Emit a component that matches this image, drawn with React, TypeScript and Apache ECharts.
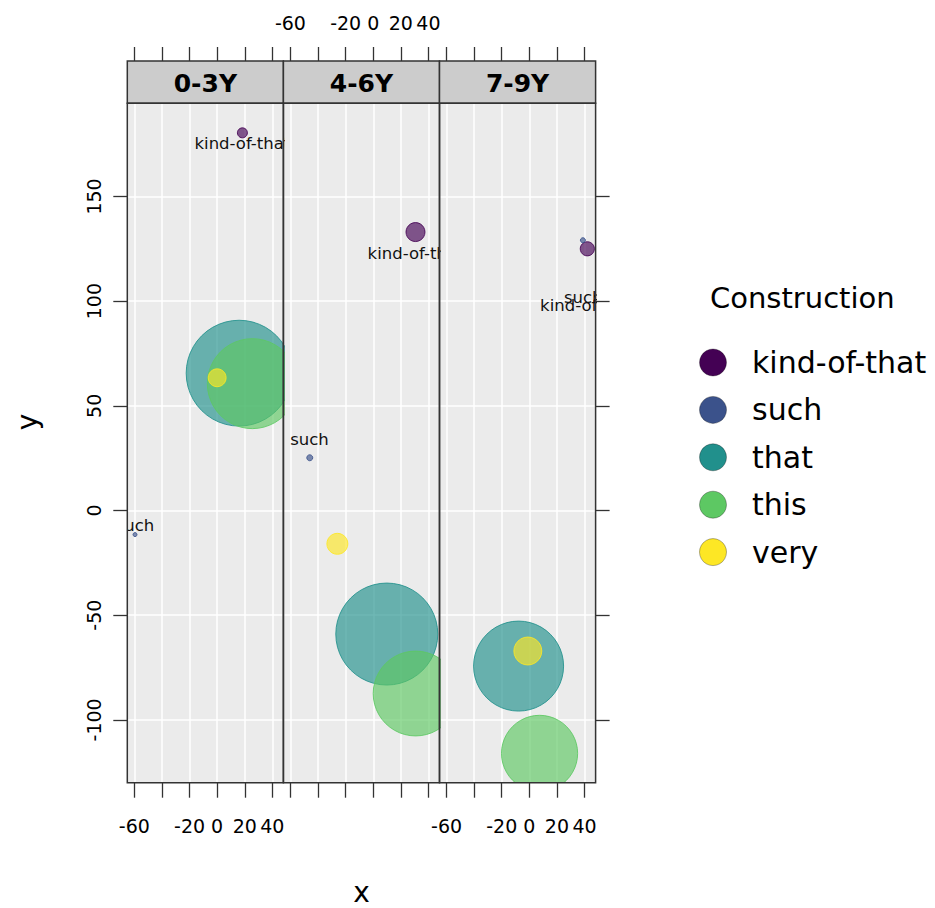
import React, { useEffect, useRef } from 'react';
import * as echarts from 'echarts';

// ---------- data ----------
const panels = ['0-3Y', '4-6Y', '7-9Y'];
const constructions = ['kind-of-that', 'such', 'that', 'this', 'very'];
const constructionColors = ['#440154', '#3B528B', '#21908C', '#5DC863', '#FDE725'];

// values per panel: [0-3Y, 4-6Y, 7-9Y]
const xKindOfThat = [18.3, 30.6, 42.0];
const xSuch = [-59.5, -46.0, 38.8];
const xThat = [15.9, 9.8, -7.8];
const xThis = [25.5, 30.7, 7.4];
const xVery = [0.0, -26.0, -1.1];

const yKindOfThat = [180.4, 133.0, 125.0];
const ySuch = [-11.5, 25.2, 129.1];
const yThat = [65.6, -59.0, -74.3];
const yThis = [60.6, -87.4, -116.0];
const yVery = [63.4, -15.9, -67.1];

// bubble size variable
const fKindOfThat = [1.0, 3.6, 2.0];
const fSuch = [0.16, 0.36, 0.25];
const fThat = [112, 104, 81];
const fThis = [81, 72, 58];
const fVery = [3.2, 4.4, 7.8];

// text labels drawn inside the panels
const labelPanel = [0, 0, 1, 1, 2, 2];
const labelText = ['kind-of-that', 'such', 'kind-of-that', 'such', 'such', 'kind-of-that'];
const labelX = [18.3, -59.5, 30.6, -46.2, 39.0, 42.5];
const labelY = [175.5, -7.1, 122.8, 34.0, 101.8, 97.9];

const xTicks = [-60, -40, -20, 0, 20, 40];
const xTickLabels = [-60, -20, 0, 20, 40];
const yTicks = [-100, -50, 0, 50, 100, 150];
const xLimits = [-65.1, 48.0];
const yLimits = [-130.0, 194.5];

// ---------- layout ----------
const FONT = 'DejaVu Sans';
const PANEL_LEFT = 127.3;
const PANEL_W = 156.1;
const PANEL_TOP = 103.3;
const PANEL_H = 679.4;
const STRIP_TOP = 61;
const STRIP_H = PANEL_TOP - STRIP_TOP;

function rgba(hex: string, a: number) {
  const r = parseInt(hex.slice(1, 3), 16);
  const g = parseInt(hex.slice(3, 5), 16);
  const b = parseInt(hex.slice(5, 7), 16);
  return `rgba(${r},${g},${b},${a})`;
}

function buildOption() {
  const xs = [xKindOfThat, xSuch, xThat, xThis, xVery];
  const ys = [yKindOfThat, ySuch, yThat, yThis, yVery];
  const fs = [fKindOfThat, fSuch, fThat, fThis, fVery];

  const grids: any[] = [];
  const xAxes: any[] = [];
  const yAxes: any[] = [];
  const series: any[] = [];
  const graphic: any[] = [];

  const tickLine = { color: '#333', width: 1.3 };
  const labelStyle = { fontSize: 19, fontFamily: FONT, color: '#000' };
  const noLine = { show: false, onZero: false };

  panels.forEach((pname, i) => {
    const left = PANEL_LEFT + i * PANEL_W;
    grids.push({
      left, top: PANEL_TOP, width: PANEL_W, height: PANEL_H,
      show: true, backgroundColor: '#EBEBEB', borderColor: '#333', borderWidth: 0,
      containLabel: false, outerBoundsMode: 'none',
    });
    // bottom x axis
    xAxes.push({
      gridIndex: i, type: 'value', min: xLimits[0], max: xLimits[1], position: 'bottom',
      axisLine: noLine,
      axisTick: { show: true, length: 15, customValues: xTicks, lineStyle: tickLine },
      axisLabel: { show: i !== 1, customValues: xTickLabels, margin: 34, ...labelStyle },
      splitLine: { show: true, lineStyle: { color: '#FFFFFF', width: 1.5 } },
    });
    // top x axis (above the strip)
    xAxes.push({
      gridIndex: i, type: 'value', min: xLimits[0], max: xLimits[1], position: 'top', offset: STRIP_H,
      axisLine: noLine,
      axisTick: { show: true, length: 14, customValues: xTicks, lineStyle: tickLine },
      axisLabel: { show: i === 1, customValues: xTickLabels, margin: 29, ...labelStyle },
      splitLine: { show: false },
    });
    // left y axis
    yAxes.push({
      gridIndex: i, type: 'value', min: yLimits[0], max: yLimits[1], position: 'left',
      axisLine: noLine,
      axisTick: { show: i === 0, length: 14, customValues: yTicks, lineStyle: tickLine },
      axisLabel: { show: i === 0, customValues: yTicks, rotate: 90, margin: 24, ...labelStyle },
      splitLine: { show: true, lineStyle: { color: '#FFFFFF', width: 1.5 } },
    });
    // right y axis
    yAxes.push({
      gridIndex: i, type: 'value', min: yLimits[0], max: yLimits[1], position: 'right',
      axisLine: noLine,
      axisTick: { show: i === 2, length: 14, customValues: yTicks, lineStyle: tickLine },
      axisLabel: { show: false },
      splitLine: { show: false },
    });

    const xIdx = 2 * i;
    const yIdx = 2 * i;

    constructions.forEach((c, k) => {
      const col = constructionColors[k];
      series.push({
        type: 'custom', name: c, coordinateSystem: 'cartesian2d',
        xAxisIndex: xIdx, yAxisIndex: yIdx, clip: true,
        itemStyle: { color: rgba(col, 0.65) },
        encode: { x: 0, y: 1 },
        data: [[xs[k][i], ys[k][i], fs[k][i]]],
        renderItem: (params: any, api: any) => {
          const p = api.coord([api.value(0), api.value(1)]);
          const r = 5 * Math.sqrt(api.value(2));
          return {
            type: 'circle',
            shape: { cx: p[0], cy: p[1], r },
            style: { fill: rgba(col, 0.65), stroke: rgba(col, 0.85), lineWidth: 1 },
          };
        },
      });
    });

    // text labels for this panel
    const idxs = labelPanel.map((p, j) => (p === i ? j : -1)).filter((j) => j >= 0);
    series.push({
      type: 'custom', name: 'point labels', coordinateSystem: 'cartesian2d',
      xAxisIndex: xIdx, yAxisIndex: yIdx, clip: true, silent: true,
      encode: { x: 0, y: 1 },
      data: idxs.map((j) => ({ value: [labelX[j], labelY[j]], name: labelText[j] })),
      renderItem: (params: any, api: any) => {
        const p = api.coord([api.value(0), api.value(1)]);
        const j = idxs[params.dataIndex];
        return {
          type: 'text', x: p[0], y: p[1],
          style: {
            text: labelText[j], fontSize: 16.5, fontFamily: FONT, fill: '#111',
            align: 'center', verticalAlign: 'middle',
          },
        };
      },
    });

    // strip
    graphic.push({
      type: 'rect', shape: { x: left, y: STRIP_TOP, width: PANEL_W, height: STRIP_H },
      style: { fill: '#CCCCCC', stroke: '#333', lineWidth: 1.5 }, z: 50,
    });
    graphic.push({
      type: 'text', x: left + PANEL_W / 2, y: STRIP_TOP + STRIP_H / 2 + 1,
      style: { text: pname, fontSize: 25, fontWeight: 'bold', fontFamily: FONT, fill: '#000', align: 'center', verticalAlign: 'middle' },
      z: 51,
    });
    // panel border on top
    graphic.push({
      type: 'rect', shape: { x: left, y: PANEL_TOP, width: PANEL_W, height: PANEL_H },
      style: { fill: 'none', stroke: '#333', lineWidth: 1.5 }, z: 50, silent: true,
    });
  });

  const panelsCenterX = PANEL_LEFT + (PANEL_W * panels.length) / 2;
  graphic.push({
    type: 'text', x: panelsCenterX, y: 892,
    style: { text: 'x', fontSize: 28, fontFamily: FONT, fill: '#000', align: 'center', verticalAlign: 'middle' },
  });
  graphic.push({
    type: 'text', x: 27, y: (STRIP_TOP + PANEL_TOP + PANEL_H) / 2, rotation: Math.PI / 2,
    style: { text: 'y', fontSize: 28, fontFamily: FONT, fill: '#000', align: 'center', verticalAlign: 'middle' },
  });
  graphic.push({
    type: 'text', x: 710, y: 298,
    style: { text: 'Construction', fontSize: 29, fontFamily: FONT, fill: '#000', align: 'left', verticalAlign: 'middle' },
  });

  return {
    animation: false,
    backgroundColor: '#FFFFFF',
    grid: grids,
    xAxis: xAxes,
    yAxis: yAxes,
    series,
    graphic,
    legend: {
      data: constructions.map((c, k) => ({
        name: c, icon: 'circle',
        itemStyle: { color: constructionColors[k], borderColor: 'rgba(0,0,0,0.3)', borderWidth: 1, opacity: 1 },
      })),
      orient: 'vertical', left: 699, top: 347.5, padding: 0,
      itemWidth: 68, itemHeight: 27, itemGap: 17.4,
      textStyle: { fontSize: 30, fontFamily: FONT, color: '#000' },
      selectedMode: false,
    },
  };
}

export default function App() {
  const ref = useRef<HTMLDivElement>(null);
  useEffect(() => {
    if (!ref.current) return;
    const chart = echarts.init(ref.current, null, { renderer: 'svg' });
    chart.setOption(buildOption() as any);
    return () => chart.dispose();
  }, []);
  return (
    <div
      ref={ref}
      style={{ position: 'fixed', left: 0, top: 0, width: 935, height: 908, background: '#fff' }}
    />
  );
}
